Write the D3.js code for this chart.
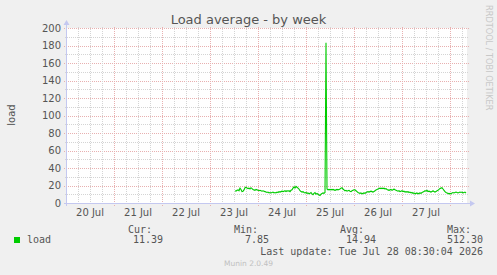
<!DOCTYPE html>
<html>
<head>
<meta charset="utf-8">
<script src="https://cdn.jsdelivr.net/npm/d3@7.9.0/dist/d3.min.js"></script>
<style>
  html, body { margin: 0; padding: 0; background: #f0f0f0; }
  svg { display: block; }
</style>
</head>
<body>
<svg id="chart" width="497" height="275"></svg>
<script>
// ---- data ----
const title = 'Load average - by week';
const yLabel = 'load';
const rangeStart = new Date(2026, 6, 20, 0, 30);
const rangeEnd = new Date(2026, 6, 28, 8, 30);
const seriesStart = new Date(2026, 6, 23, 12, 30);
const stepMinutes = 30;
const yTicks = [0, 20, 40, 60, 80, 100, 120, 140, 160, 180, 200];
const dayLabels = ['20 Jul', '21 Jul', '22 Jul', '23 Jul', '24 Jul', '25 Jul', '26 Jul', '27 Jul'];
const load = [
  14, 13.5, 14.5, 15, 14, 17, 15.5, 13, 13.5, 15, 17.5, 18, 17, 16.5, 17, 16, 17.5, 16.5, 15.5, 15, 14.5, 15.5, 15, 14.5,
  14, 14.5, 14, 13.5, 14, 13.5, 13, 12.5, 12, 12.5, 11.5, 12, 11.5, 12, 12.5, 11.5, 12, 11.5, 12.5, 12, 13, 12.5, 13, 13.5,
  13, 13.5, 14, 13, 14, 13.5, 14, 13, 14.5, 15, 17, 18.5, 17, 19, 18, 17, 16, 14, 13, 12.5, 13, 12, 11.5, 12,
  11, 11.5, 10.5, 11, 12, 10.5, 9.5, 11, 12, 10, 11, 10, 9, 8.5, 10, 11, 11.5, 11, 12, 183, 16, 15, 15.5, 15,
  15.5, 15, 15.5, 15, 14.5, 15, 15.5, 15, 15.5, 16, 17, 17.5, 16, 15, 14, 14.5, 13.5, 14, 14.5, 13.5, 13, 14, 14.5, 15,
  15, 14, 13, 12, 11.5, 11, 11.5, 10.5, 11, 11.5, 11, 12, 12.5, 13, 12.5, 13, 13.5, 13, 12.5, 13, 14, 15, 15.5, 16,
  16.5, 17, 16.5, 17, 16.5, 17, 16, 16.5, 15.5, 15, 14.5, 15, 15.5, 14.5, 15, 16, 15, 14.5, 14, 13.5, 14, 13, 13.5, 14,
  13, 13.5, 12.5, 13, 12.5, 13, 12, 12.5, 11.5, 12, 11, 11.5, 10.5, 11, 11.5, 10.5, 11, 11.5, 11, 12, 12.5, 13, 14, 13.5,
  14.5, 13, 13.5, 13, 12.5, 13, 14, 13, 12.5, 13, 14, 14.5, 15.5, 16.5, 17, 17.5, 16, 14.5, 13, 12, 11.5, 11, 10.5, 11,
  10.5, 11.5, 12, 11.5, 12, 12.5, 12, 11.5, 12, 12.5, 12, 12.5, 11.5, 12, 12.5, 11.4
];
const legendName = 'load';
const statHeaders = ['Cur:', 'Min:', 'Avg:', 'Max:'];
const statValues = ['11.39', '7.85', '14.94', '512.30'];
const lastUpdate = 'Last update: Tue Jul 28 08:30:04 2026';
const footer = 'Munin 2.0.49';
const watermark = 'RRDTOOL / TOBI OETIKER';

// ---- layout ----
const plot = { left: 67, right: 467, top: 28, bottom: 203 };
const lineColor = '#00cc00';
const textColor = '#555';
const minorGrid = '#d4d4d4';
const majorGrid = '#e8b0b0';
const axisColor = '#c4c8f0';

const svg = d3.select('#chart');
const px = v => Math.round(v) + 0.5;

const x = d3.scaleTime().domain([rangeStart, rangeEnd]).range([plot.left, plot.right]);
const y = d3.scaleLinear().domain([0, 200]).range([plot.bottom, plot.top]);

// canvas
svg.append('rect')
  .attr('x', plot.left).attr('y', plot.top)
  .attr('width', plot.right - plot.left).attr('height', plot.bottom - plot.top)
  .attr('fill', '#fff');

const grid = svg.append('g').attr('shape-rendering', 'crispEdges');

// horizontal grid: minor every 10, major every 20
d3.range(10, 201, 10).forEach(v => {
  const major = v % 20 === 0;
  grid.append('line')
    .attr('x1', plot.left - (major ? 3 : 2)).attr('x2', plot.right + (major ? 2 : 1))
    .attr('y1', px(y(v))).attr('y2', px(y(v)))
    .attr('stroke', major ? majorGrid : minorGrid)
    .attr('stroke-dasharray', '1,1');
});

// vertical grid: minor every 6h, major at midnight
const sixHours = d3.timeHour.every(6).range(rangeStart, rangeEnd);
sixHours.forEach(t => {
  const major = t.getHours() === 0;
  grid.append('line')
    .attr('x1', px(x(t))).attr('x2', px(x(t)))
    .attr('y1', plot.top - 1).attr('y2', plot.bottom + (major ? 3 : 2))
    .attr('stroke', major ? majorGrid : minorGrid)
    .attr('stroke-dasharray', '1,1');
});

// axes
grid.append('line')
  .attr('x1', plot.left - 0.5).attr('x2', plot.left - 0.5)
  .attr('y1', plot.top - 4).attr('y2', plot.bottom + 3)
  .attr('stroke', axisColor);
grid.append('line')
  .attr('x1', plot.left - 3).attr('x2', plot.right + 4)
  .attr('y1', plot.bottom + 0.5).attr('y2', plot.bottom + 0.5)
  .attr('stroke', axisColor);
svg.append('path')
  .attr('d', `M${plot.left - 3.5},${plot.top - 3}L${plot.left - 0.5},${plot.top - 8}L${plot.left + 2.5},${plot.top - 3}Z`)
  .attr('fill', axisColor);
svg.append('path')
  .attr('d', `M${plot.right + 3},${plot.bottom - 2.5}L${plot.right + 8},${plot.bottom + 0.5}L${plot.right + 3},${plot.bottom + 3.5}Z`)
  .attr('fill', axisColor);

// y tick labels
svg.append('g')
  .selectAll('text')
  .data(yTicks)
  .join('text')
  .attr('x', 61)
  .attr('y', d => y(d) + 3.5)
  .attr('text-anchor', 'end')
  .attr('font-family', 'DejaVu Sans')
  .attr('font-size', 10)
  .attr('fill', textColor)
  .text(d => d);

// x day labels at noon
const noons = d3.timeDay.range(new Date(2026, 6, 20), new Date(2026, 6, 28)).map(d => d3.timeHour.offset(d, 12));
svg.append('g')
  .selectAll('text')
  .data(noons)
  .join('text')
  .attr('x', d => x(d))
  .attr('y', 216)
  .attr('text-anchor', 'middle')
  .attr('font-family', 'DejaVu Sans')
  .attr('font-size', 10)
  .attr('fill', textColor)
  .text((d, i) => dayLabels[i]);

// series
const points = load.map((v, i) => ({ t: d3.timeMinute.offset(seriesStart, i * stepMinutes), v }));
const line = d3.line()
  .x(d => x(d.t))
  .y(d => y(Math.min(d.v, 200)));
svg.append('path')
  .datum(points)
  .attr('d', line)
  .attr('fill', 'none')
  .attr('stroke', lineColor)
  .attr('stroke-width', 1.1);

// title and y label
svg.append('text')
  .attr('x', 248.5).attr('y', 24)
  .attr('text-anchor', 'middle')
  .attr('font-family', 'DejaVu Sans')
  .attr('font-size', 13)
  .attr('fill', textColor)
  .text(title);

svg.append('text')
  .attr('transform', 'translate(15,115) rotate(-90)')
  .attr('text-anchor', 'middle')
  .attr('font-family', 'DejaVu Sans')
  .attr('font-size', 10)
  .attr('fill', textColor)
  .text(yLabel);

// watermark
svg.append('text')
  .attr('transform', 'translate(486,5) rotate(90)')
  .attr('font-family', 'DejaVu Sans')
  .attr('font-size', 8.2)
  .attr('fill', '#c8c8c8')
  .text(watermark);

// legend
const mono = 'DejaVu Sans Mono';
svg.append('rect')
  .attr('x', 14).attr('y', 237).attr('width', 6).attr('height', 6)
  .attr('fill', lineColor);
svg.append('text')
  .attr('x', 27).attr('y', 243)
  .attr('font-family', mono).attr('font-size', 10).attr('fill', textColor)
  .text(legendName);

const headerX = [128, 234, 340, 447];
const valueEnd = [163, 269, 376, 483];
svg.append('g').selectAll('text').data(statHeaders).join('text')
  .attr('x', (d, i) => headerX[i]).attr('y', 233)
  .attr('font-family', mono).attr('font-size', 10).attr('fill', textColor)
  .text(d => d);
svg.append('g').selectAll('text').data(statValues).join('text')
  .attr('x', (d, i) => valueEnd[i]).attr('y', 243)
  .attr('text-anchor', 'end')
  .attr('font-family', mono).attr('font-size', 10).attr('fill', textColor)
  .text(d => d);

svg.append('text')
  .attr('x', 483).attr('y', 255)
  .attr('text-anchor', 'end')
  .attr('font-family', mono).attr('font-size', 10).attr('fill', textColor)
  .text(lastUpdate);

svg.append('text')
  .attr('x', 248.5).attr('y', 266)
  .attr('text-anchor', 'middle')
  .attr('font-family', 'DejaVu Sans')
  .attr('font-size', 7.5)
  .attr('fill', '#c0c0c0')
  .text(footer);
</script>
</body>
</html>
